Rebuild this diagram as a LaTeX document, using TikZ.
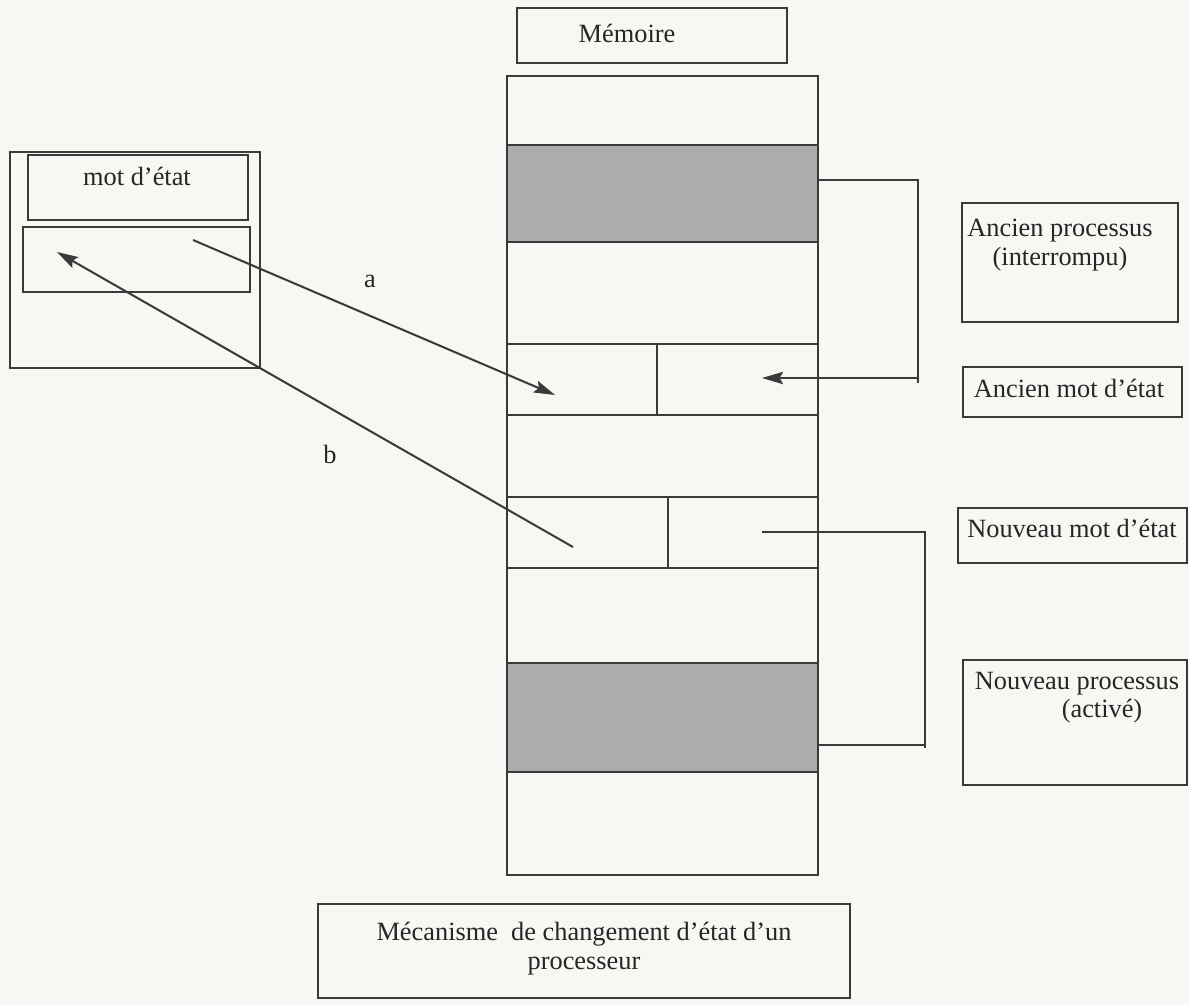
\documentclass[tikz,border=0pt]{standalone}
\usepackage{fontspec}
\setmainfont{Liberation Serif}
\usetikzlibrary{arrows.meta,fit}
\definecolor{ink}{RGB}{58,58,58}
\definecolor{textink}{RGB}{38,38,38}
\definecolor{paper}{RGB}{247,247,244}
\definecolor{shade}{RGB}{172,172,172}
\begin{document}
\begin{tikzpicture}[x=0.02cm,y=-0.02cm,
  box/.style={draw=ink,line width=1.15pt,inner sep=0pt},
  wire/.style={draw=ink,line width=1.15pt},
  tip/.style={-{Stealth[length=12pt,width=7pt,inset=2pt]}},
  txt/.style={font=\fontsize{15}{17}\selectfont,text=textink,inner sep=0pt,anchor=base}]
% page
\fill[paper] (0,0) rectangle (1189,1005);
\useasboundingbox (0,0) rectangle (1189,1005);

% title box
\node[box,fit={(517,8) (787,63)}] (memBox) {};
\node[txt] (memT) at (627,42) {Mémoire};

% memory column with the two process areas
\node[box,fill=shade,fit={(507,145) (818,242)}] (band1) {};
\node[box,fill=shade,fit={(507,663) (818,772)}] (band2) {};
\node[box,fit={(507,76) (818,875)}] (mem) {};
\node[box,fit={(507,344) (818,415)}] (oldCell) {};
\node[box,fit={(507,497) (818,568)}] (newCell) {};
\draw[wire] (657,344) -- (657,415);
\draw[wire] (668,497) -- (668,568);

% processor registers
\node[box,fit={(10,152) (260,368)}] (cpu) {};
\node[box,fit={(28,155) (248,220)}] (psw) {};
\node[txt] (pswT) at (137,185) {mot d’état};
\node[box,fit={(23,227) (250,292)}] (reg) {};

% right-hand labels
\node[box,fit={(962,203) (1178,322)}] (oldProc) {};
\node[txt] (oldProcT1) at (1060,236) {Ancien processus};
\node[txt] (oldProcT2) at (1060,265) {(interrompu)};
\node[box,fit={(963,367) (1182,417)}] (oldPsw) {};
\node[txt] (oldPswT) at (1069,397) {Ancien mot d’état};
\node[box,fit={(958,508) (1187,563)}] (newPsw) {};
\node[txt] (newPswT) at (1072,537) {Nouveau mot d’état};
\node[box,fit={(963,660) (1187,785)}] (newProc) {};
\node[txt] (newProcT1) at (1077,689) {Nouveau processus};
\node[txt] (newProcT2) at (1102,717) {(activé)};

% caption
\node[box,fit={(318,904) (850,998)}] (capBox) {};
\node[txt] (capT1) at (584,940) {Mécanisme\ \ de changement d’état d’un};
\node[txt] (capT2) at (584,969) {processeur};

% connectors
\coordinate (oldBus) at (918,180);
\coordinate (oldTip) at (762,378);
\draw[wire] (band1.east |- oldBus) -- (oldBus) -- ++(0,203);
\draw[wire,tip] (oldBus |- oldTip) -- (oldTip);

\coordinate (newFrom) at (762,532);
\coordinate (newBus) at (925,532);
\coordinate (newBack) at (925,745);
\draw[wire] (newFrom) -- (newBus) -- ++(0,216);
\draw[wire] (newBack) -- (band2.east |- newBack);

\coordinate (aFrom) at (193,240);
\coordinate (aTo) at (555,395);
\draw[wire,tip] (aFrom) -- (aTo);
\node[txt] (aLab) at (370,287) {a};

\coordinate (bFrom) at (573,547);
\coordinate (bTo) at (57,252);
\draw[wire,tip] (bFrom) -- (bTo);
\node[txt] (bLab) at (330,463) {b};
\end{tikzpicture}
\end{document}
